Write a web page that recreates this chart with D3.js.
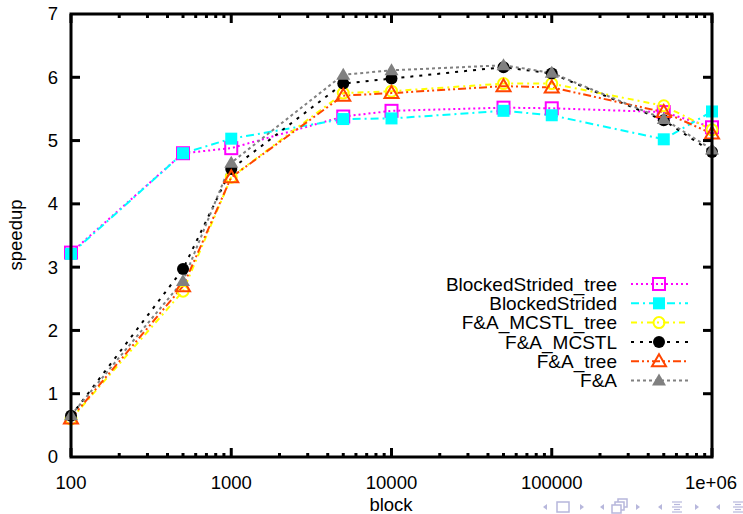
<!DOCTYPE html>
<html>
<head>
<meta charset="utf-8">
<script src="https://cdn.jsdelivr.net/npm/d3@7"></script>
<style>
  html, body { margin: 0; padding: 0; background: #fff; }
  svg { display: block; font-family: "Liberation Sans", Arial, Helvetica, sans-serif; }
</style>
</head>
<body>
<svg id="chart" width="743" height="514"></svg>
<script>
// Block sizes (x) and speedup per implementation
const blocks = [100, 500, 1000, 5000, 10000, 50000, 100000, 500000, 1000000];

const blockedStridedTree = [3.23, 4.80, 4.88, 5.38, 5.47, 5.52, 5.51, 5.45, 5.21];
const blockedStrided     = [3.21, 4.80, 5.03, 5.34, 5.35, 5.47, 5.40, 5.02, 5.46];
const faMcstlTree        = [0.60, 2.62, 4.42, 5.75, 5.78, 5.90, 5.90, 5.55, 5.17];
const faMcstl            = [0.65, 2.97, 4.55, 5.90, 5.98, 6.16, 6.06, 5.32, 4.82];
const faTree             = [0.61, 2.70, 4.42, 5.71, 5.75, 5.86, 5.84, 5.45, 5.11];
const fa                 = [0.66, 2.78, 4.65, 6.04, 6.11, 6.19, 6.07, 5.34, 4.86];

const seriesNames = ["BlockedStrided_tree", "BlockedStrided", "F&A_MCSTL_tree", "F&A_MCSTL", "F&A_tree", "F&A"];
const seriesValues = [blockedStridedTree, blockedStrided, faMcstlTree, faMcstl, faTree, fa];

const xTickValues = [100, 1000, 10000, 100000, 1000000];
const xTickLabels = ["100", "1000", "10000", "100000", "1e+06"];
const yTickValues = [0, 1, 2, 3, 4, 5, 6, 7];

// Per-series drawing style
const styles = [
  { color: "#ff00ff", dash: "2,3",          marker: "square",   filled: false },
  { color: "#00ffff", dash: "8,4,2,4",      marker: "square",   filled: true  },
  { color: "#ffff00", dash: "6,4,2,4",      marker: "circle",   filled: false },
  { color: "#000000", dash: "3,6",          marker: "circle",   filled: true  },
  { color: "#ff4500", dash: "8,3,2,3,2,3",  marker: "triangle", filled: false },
  { color: "#808080", dash: "3,3",          marker: "triangle", filled: true  }
];

const svg = d3.select("#chart");
const plotLeft = 71, plotRight = 712, plotTop = 14, plotBottom = 457;

const x = d3.scaleLog().domain([100, 1000000]).range([plotLeft, plotRight]);
const y = d3.scaleLinear().domain([0, 7]).range([plotBottom, plotTop]);

const tickFont = 18.5;
const legendFont = 19;

// Data lines
const line = d3.line().x((d, i) => x(blocks[i])).y(d => y(d));
seriesValues.forEach((vals, s) => {
  svg.append("path")
    .datum(vals)
    .attr("d", line)
    .attr("fill", "none")
    .attr("stroke", styles[s].color)
    .attr("stroke-width", 2)
    .attr("stroke-dasharray", styles[s].dash);
});

function drawMarker(g, type, cx, cy, color, filled) {
  const sw = 2;
  if (type === "square") {
    g.append("rect").attr("x", cx - 6).attr("y", cy - 6).attr("width", 12).attr("height", 12)
      .attr("fill", filled ? color : "none").attr("stroke", color).attr("stroke-width", filled ? 0 : sw);
  } else if (type === "circle") {
    g.append("circle").attr("cx", cx).attr("cy", cy).attr("r", filled ? 6 : 5.5)
      .attr("fill", filled ? color : "none").attr("stroke", color).attr("stroke-width", filled ? 0 : sw);
  } else {
    const pts = [[cx, cy - 7], [cx + 7, cy + 5], [cx - 7, cy + 5]];
    g.append("polygon").attr("points", pts.map(p => p.join(",")).join(" "))
      .attr("fill", filled ? color : "none").attr("stroke", color).attr("stroke-width", filled ? 0 : sw);
  }
}

// Point markers
seriesValues.forEach((vals, s) => {
  const g = svg.append("g");
  vals.forEach((v, i) => drawMarker(g, styles[s].marker, x(blocks[i]), y(v), styles[s].color, styles[s].filled));
});

// Frame and ticks
const frame = svg.append("g");
frame.append("rect").attr("x", plotLeft).attr("y", plotTop)
  .attr("width", plotRight - plotLeft).attr("height", plotBottom - plotTop)
  .attr("fill", "none").attr("stroke", "#000").attr("stroke-width", 3);

const major = 9, minor = 4;
// y ticks, mirrored on the right
yTickValues.forEach(v => {
  if (v === 0 || v === 7) return;
  frame.append("line").attr("x1", plotLeft).attr("x2", plotLeft + major).attr("y1", y(v)).attr("y2", y(v))
    .attr("stroke", "#000").attr("stroke-width", 3);
  frame.append("line").attr("x1", plotRight).attr("x2", plotRight - major).attr("y1", y(v)).attr("y2", y(v))
    .attr("stroke", "#000").attr("stroke-width", 3);
});
// x ticks (major and minor), mirrored on top
const xMinor = [];
for (let d = 100; d < 1000000; d *= 10) for (let k = 2; k <= 9; k++) xMinor.push(d * k);
xTickValues.forEach(v => {
  [[plotBottom, -1], [plotTop, 1]].forEach(([yy, dir]) => {
    frame.append("line").attr("x1", x(v)).attr("x2", x(v)).attr("y1", yy).attr("y2", yy + dir * major)
      .attr("stroke", "#000").attr("stroke-width", 3);
  });
});
xMinor.forEach(v => {
  [[plotBottom, -1], [plotTop, 1]].forEach(([yy, dir]) => {
    frame.append("line").attr("x1", x(v)).attr("x2", x(v)).attr("y1", yy).attr("y2", yy + dir * minor)
      .attr("stroke", "#000").attr("stroke-width", 3);
  });
});

// Tick labels
yTickValues.forEach(v => {
  svg.append("text").attr("x", 58).attr("y", y(v)).attr("dy", "0.35em")
    .attr("text-anchor", "end").attr("font-size", tickFont).text(v);
});
xTickValues.forEach((v, i) => {
  const last = i === xTickValues.length - 1;
  svg.append("text").attr("x", last ? 737 : x(v)).attr("y", 483).attr("dy", "0.35em")
    .attr("text-anchor", last ? "end" : "middle").attr("font-size", tickFont).text(xTickLabels[i]);
});

// Axis titles
svg.append("text").attr("x", 391).attr("y", 505).attr("dy", "0.35em")
  .attr("text-anchor", "middle").attr("font-size", tickFont).text("block");
svg.append("text").attr("transform", "translate(16,235) rotate(-90)").attr("dy", "0.35em")
  .attr("text-anchor", "middle").attr("font-size", tickFont).text("speedup");

// Legend
const legend = svg.append("g");
seriesNames.forEach((name, s) => {
  const ly = 284 + s * 19.3;
  legend.append("text").attr("x", 617).attr("y", ly).attr("dy", "0.35em")
    .attr("text-anchor", "end").attr("font-size", legendFont).text(name);
  legend.append("line").attr("x1", 631).attr("x2", 688).attr("y1", ly).attr("y2", ly)
    .attr("stroke", styles[s].color).attr("stroke-width", 2).attr("stroke-dasharray", styles[s].dash);
  drawMarker(legend, styles[s].marker, 659, ly, styles[s].color, styles[s].filled);
});

// Slide navigation symbols
const nav = svg.append("g").attr("fill", "#b7b7dc").attr("stroke", "#b7b7dc");
const ny = 507;
function leftArrow(cx) { nav.append("polygon").attr("points", `${cx+2},${ny-3} ${cx+2},${ny+3} ${cx-2},${ny}`).attr("stroke", "none"); }
function rightArrow(cx) { nav.append("polygon").attr("points", `${cx-2},${ny-3} ${cx-2},${ny+3} ${cx+2},${ny}`).attr("stroke", "none"); }
function lines(cx) {
  [-5, -2.5, 0, 2.5, 5].forEach((o, i) => nav.append("line")
    .attr("x1", cx - (i % 2 ? 3 : 5)).attr("x2", cx + (i % 2 ? 3 : 5)).attr("y1", ny + o).attr("y2", ny + o).attr("stroke-width", 1.2));
}
leftArrow(545);
nav.append("rect").attr("x", 557).attr("y", ny - 5).attr("width", 12).attr("height", 10).attr("fill", "none").attr("stroke-width", 1.5);
rightArrow(582);
leftArrow(602);
[[0, 0], [3, -3], [6, -6]].reverse().forEach(([dx, dy]) => nav.append("rect").attr("x", 612 + dx).attr("y", ny - 2 + dy).attr("width", 9).attr("height", 8)
  .attr("fill", "#fff").attr("stroke-width", 1.5));
rightArrow(638);
leftArrow(660);
lines(677);
rightArrow(697);
leftArrow(718);
lines(738);
</script>
</body>
</html>
